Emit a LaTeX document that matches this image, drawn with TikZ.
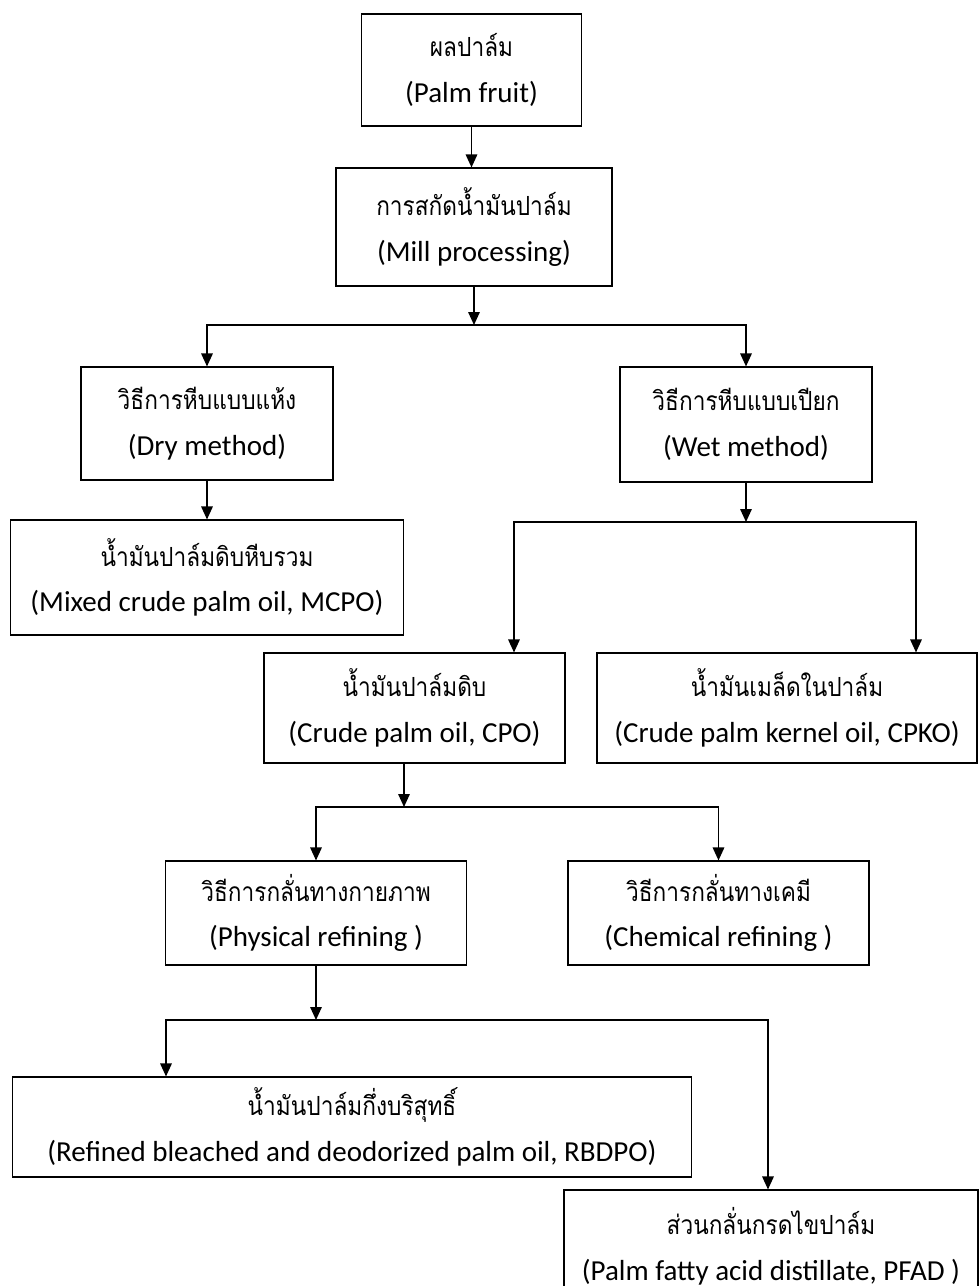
\documentclass[tikz,border=0pt]{standalone}
\usepackage{fontspec}
\setmainfont{Carlito}
\newfontfamily\thaifont[Script=Thai, FakeStretch=0.86]{Loma}
\newcommand{\thai}[1]{{\thaifont\fontsize{15}{26}\selectfont #1}}
\usetikzlibrary{arrows.meta}

\begin{document}
\begin{tikzpicture}[
    x=0.02cm, y=-0.02cm,
    box/.style = {rectangle, draw, line width=0.65pt, align=center, inner sep=0pt, font=\fontsize{16.5}{26}\selectfont},
    line/.style = {draw, line width=0.9pt, -{Triangle[length=2.6mm, width=2.3mm]}}
]
    \useasboundingbox (0,0) rectangle (979,1286);

    % Nodes - centros medidos na figura (px)
    \node [box, minimum width=4.40cm, minimum height=2.24cm] (fruit) at (471.5, 70) {\thai{ผลปาล์ม} \\ (Palm fruit)};
    \node [box, minimum width=5.52cm, minimum height=2.36cm] (mill) at (474, 227) {\thai{การสกัดน้ำมันปาล์ม} \\ (Mill processing)};

    \node [box, minimum width=5.04cm, minimum height=2.26cm] (dry) at (207, 423.5) {\thai{วิธีการหีบแบบแห้ง} \\ (Dry method)};
    \node [box, minimum width=5.04cm, minimum height=2.30cm] (wet) at (746, 424.5) {\thai{วิธีการหีบแบบเปียก} \\ (Wet method)};

    \node [box, minimum width=7.86cm, minimum height=2.30cm] (mcpo) at (207, 577.5) {\thai{น้ำมันปาล์มดิบหีบรวม} \\ (Mixed crude palm oil, MCPO)};

    \node [box, minimum width=6.02cm, minimum height=2.20cm] (cpo) at (414.5, 708) {\thai{น้ำมันปาล์มดิบ} \\ (Crude palm oil, CPO)};
    \node [box, minimum width=7.60cm, minimum height=2.20cm] (cpko) at (787, 708) {\thai{น้ำมันเมล็ดในปาล์ม} \\ (Crude palm kernel oil, CPKO)};

    \node [box, minimum width=6.02cm, minimum height=2.08cm] (phys) at (316, 913) {\thai{วิธีการกลั่นทางกายภาพ} \\ (Physical refining )};
    \node [box, minimum width=6.02cm, minimum height=2.08cm] (chem) at (718.5, 913) {\thai{วิธีการกลั่นทางเคมี} \\ (Chemical refining )};

    \node [box, minimum width=13.58cm, minimum height=2.00cm] (rbdpo) at (352, 1127) {\thai{น้ำมันปาล์มกึ่งบริสุทธิ์} \\ (Refined bleached and deodorized palm oil, RBDPO)};
    \node [box, minimum width=8.28cm, minimum height=2.24cm] (pfad) at (771, 1246) {\thai{ส่วนกลั่นกรดไขปาล์ม} \\ (Palm fatty acid distillate, PFAD )};

    % Branch points
    \coordinate (s1) at (474, 325);
    \coordinate (s2) at (746, 522);
    \coordinate (s2l) at (514, 522);
    \coordinate (s2r) at (916, 522);
    \coordinate (s3) at (404, 807);
    \coordinate (s4) at (316, 1020);
    \coordinate (s4l) at (166, 1020);
    \coordinate (s4r) at (768, 1020);

    % Edges
    \path [line] (fruit.south) -- (fruit.south |- mill.north);
    \path [line] (mill.south) -- (s1);
    \path [line] (s1) -| (dry);
    \path [line] (s1) -| (wet);

    \path [line] (dry) -- (mcpo);
    \path [line] (wet) -- (s2);
    \path [line] (s2) -| (s2l |- cpo.north);
    \path [line] (s2) -| (s2r |- cpko.north);

    \path [line] (s3 |- cpo.south) -- (s3);
    \path [line] (s3) -| (phys);
    \path [line] (s3) -| (chem);

    \path [line] (phys) -- (s4);
    \path [line] (s4) -| (s4l |- rbdpo.north);
    \path [line] (s4) -| (s4r |- pfad.north);

\end{tikzpicture}
\end{document}
